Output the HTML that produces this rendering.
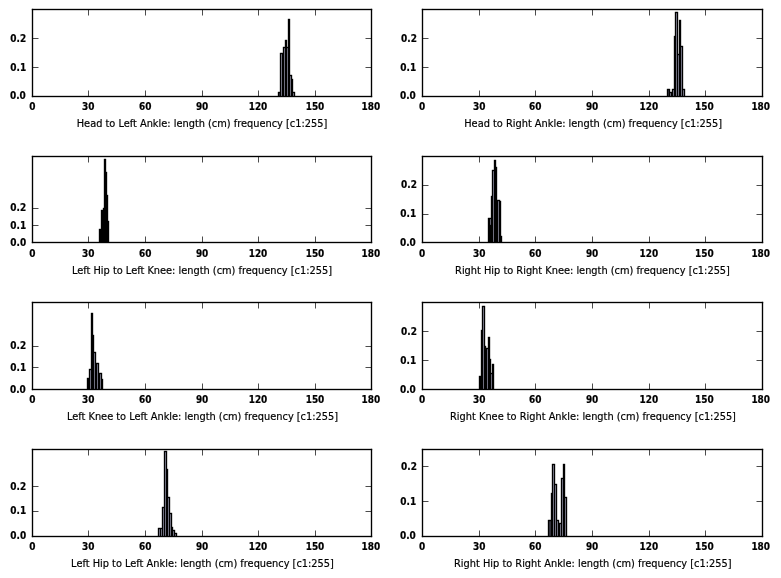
<!DOCTYPE html>
<html><head><meta charset="utf-8"><title>Limb length histograms</title>
<style>
html,body{margin:0;padding:0;background:#fff;}
body{width:781px;height:578px;overflow:hidden;}
svg{display:block;}
.tk text{font-family:"DejaVu Sans Condensed","DejaVu Sans","Liberation Sans",sans-serif;font-weight:bold;font-size:10.4px;fill:#000;stroke:#000;stroke-width:0.2px;}
text.xl{font-family:"DejaVu Sans","Liberation Sans",sans-serif;font-size:9.8px;fill:#000;stroke:#000;stroke-width:0.18px;}
</style></head><body>
<svg width="781" height="578" viewBox="0 0 781 578">
<rect x="0" y="0" width="781" height="578" fill="#fff"/>
<g id="ax1">
<rect x="279" y="93" width="1" height="3" fill="#3a3a44"/>
<rect x="281" y="54" width="1" height="42" fill="#a3a3ba"/>
<rect x="284" y="48" width="1" height="48" fill="#a3a3ba"/>
<rect x="287" y="48" width="1" height="48" fill="#a3a3ba"/>
<rect x="290" y="76" width="1" height="20" fill="#a3a3ba"/>
<rect x="293" y="93" width="1" height="3" fill="#a3a3ba"/>
<rect x="277.825" y="91.825" width="1.35" height="4.175" fill="#000"/>
<rect x="278.825" y="91.825" width="1.35" height="1.35" fill="#000"/>
<rect x="279.825" y="52.825" width="1.35" height="43.175" fill="#000"/>
<rect x="280.825" y="52.825" width="1.35" height="1.35" fill="#000"/>
<rect x="281.825" y="52.825" width="1.35" height="43.175" fill="#000"/>
<rect x="282.825" y="46.825" width="1.35" height="49.175" fill="#000"/>
<rect x="283.825" y="46.825" width="1.35" height="1.35" fill="#000"/>
<rect x="284.825" y="39.825" width="1.35" height="56.175" fill="#000"/>
<rect x="285.825" y="39.825" width="1.35" height="56.175" fill="#000"/>
<rect x="286.825" y="46.825" width="1.35" height="1.35" fill="#000"/>
<rect x="287.825" y="18.825" width="1.35" height="77.175" fill="#000"/>
<rect x="288.825" y="18.825" width="1.35" height="77.175" fill="#000"/>
<rect x="289.825" y="74.825" width="1.35" height="1.35" fill="#000"/>
<rect x="290.825" y="74.825" width="1.35" height="21.175" fill="#000"/>
<rect x="291.825" y="78.825" width="1.35" height="17.175" fill="#000"/>
<rect x="292.825" y="91.825" width="1.35" height="1.35" fill="#000"/>
<rect x="293.825" y="91.825" width="1.35" height="4.175" fill="#000"/>
<rect x="88.15" y="90.5" width="0.7" height="6" fill="#000"/>
<rect x="88.15" y="9.5" width="0.7" height="6" fill="#000"/>
<rect x="145.15" y="90.5" width="0.7" height="6" fill="#000"/>
<rect x="145.15" y="9.5" width="0.7" height="6" fill="#000"/>
<rect x="202.15" y="90.5" width="0.7" height="6" fill="#000"/>
<rect x="202.15" y="9.5" width="0.7" height="6" fill="#000"/>
<rect x="258.15" y="90.5" width="0.7" height="6" fill="#000"/>
<rect x="258.15" y="9.5" width="0.7" height="6" fill="#000"/>
<rect x="315.15" y="90.5" width="0.7" height="6" fill="#000"/>
<rect x="315.15" y="9.5" width="0.7" height="6" fill="#000"/>
<rect x="32.5" y="67.15" width="6" height="0.7" fill="#000"/>
<rect x="365.5" y="67.15" width="6" height="0.7" fill="#000"/>
<rect x="32.5" y="38.15" width="6" height="0.7" fill="#000"/>
<rect x="365.5" y="38.15" width="6" height="0.7" fill="#000"/>
<rect x="31.825" y="8.825" width="340.35" height="1.35" fill="#000"/>
<rect x="31.825" y="95.825" width="340.35" height="1.35" fill="#000"/>
<rect x="31.825" y="8.825" width="1.35" height="88.35" fill="#000"/>
<rect x="370.825" y="8.825" width="1.35" height="88.35" fill="#000"/>
</g>
<g class="tk">
<text x="32.3" y="109.7" text-anchor="middle" textLength="6.22" lengthAdjust="spacingAndGlyphs">0</text>
<text x="88.3" y="109.7" text-anchor="middle" textLength="12.43" lengthAdjust="spacingAndGlyphs">30</text>
<text x="145.3" y="109.7" text-anchor="middle" textLength="12.43" lengthAdjust="spacingAndGlyphs">60</text>
<text x="202.1" y="109.7" text-anchor="middle" textLength="12.43" lengthAdjust="spacingAndGlyphs">90</text>
<text x="258" y="109.7" text-anchor="middle" textLength="18.65" lengthAdjust="spacingAndGlyphs">120</text>
<text x="315" y="109.7" text-anchor="middle" textLength="18.65" lengthAdjust="spacingAndGlyphs">150</text>
<text x="370.9" y="109.7" text-anchor="middle" textLength="18.65" lengthAdjust="spacingAndGlyphs">180</text>
<text x="25.8" y="99.3" text-anchor="end" textLength="15.83" lengthAdjust="spacingAndGlyphs">0.0</text>
<text x="26.1" y="71.3" text-anchor="end" textLength="15.83" lengthAdjust="spacingAndGlyphs">0.1</text>
<text x="26.2" y="42" text-anchor="end" textLength="15.83" lengthAdjust="spacingAndGlyphs">0.2</text>
</g>
<text class="xl" x="202" y="127" text-anchor="middle">Head to Left Ankle: length (cm) frequency [c1:255]</text>
<g id="ax2">
<rect x="668" y="90" width="1" height="6" fill="#3a3a44"/>
<rect x="670" y="93" width="1" height="3" fill="#a3a3ba"/>
<rect x="673" y="90" width="1" height="6" fill="#a3a3ba"/>
<rect x="676" y="13" width="1" height="83" fill="#a3a3ba"/>
<rect x="678" y="55" width="1" height="41" fill="#a3a3ba"/>
<rect x="681" y="47" width="1" height="49" fill="#a3a3ba"/>
<rect x="683" y="90" width="1" height="6" fill="#a3a3ba"/>
<rect x="666.825" y="88.825" width="1.35" height="7.175" fill="#000"/>
<rect x="667.825" y="88.825" width="1.35" height="1.35" fill="#000"/>
<rect x="668.825" y="88.825" width="1.35" height="7.175" fill="#000"/>
<rect x="669.825" y="91.825" width="1.35" height="1.35" fill="#000"/>
<rect x="670.825" y="91.825" width="1.35" height="4.175" fill="#000"/>
<rect x="671.825" y="88.825" width="1.35" height="7.175" fill="#000"/>
<rect x="672.825" y="88.825" width="1.35" height="1.35" fill="#000"/>
<rect x="673.825" y="35.825" width="1.35" height="60.175" fill="#000"/>
<rect x="674.825" y="11.825" width="1.35" height="84.175" fill="#000"/>
<rect x="675.825" y="11.825" width="1.35" height="1.35" fill="#000"/>
<rect x="676.825" y="11.825" width="1.35" height="84.175" fill="#000"/>
<rect x="677.825" y="53.825" width="1.35" height="1.35" fill="#000"/>
<rect x="678.825" y="19.825" width="1.35" height="76.175" fill="#000"/>
<rect x="679.825" y="19.825" width="1.35" height="76.175" fill="#000"/>
<rect x="680.825" y="45.825" width="1.35" height="1.35" fill="#000"/>
<rect x="681.825" y="45.825" width="1.35" height="50.175" fill="#000"/>
<rect x="682.825" y="88.825" width="1.35" height="1.35" fill="#000"/>
<rect x="683.825" y="88.825" width="1.35" height="7.175" fill="#000"/>
<rect x="479.15" y="90.5" width="0.7" height="6" fill="#000"/>
<rect x="479.15" y="9.5" width="0.7" height="6" fill="#000"/>
<rect x="535.15" y="90.5" width="0.7" height="6" fill="#000"/>
<rect x="535.15" y="9.5" width="0.7" height="6" fill="#000"/>
<rect x="592.15" y="90.5" width="0.7" height="6" fill="#000"/>
<rect x="592.15" y="9.5" width="0.7" height="6" fill="#000"/>
<rect x="649.15" y="90.5" width="0.7" height="6" fill="#000"/>
<rect x="649.15" y="9.5" width="0.7" height="6" fill="#000"/>
<rect x="705.15" y="90.5" width="0.7" height="6" fill="#000"/>
<rect x="705.15" y="9.5" width="0.7" height="6" fill="#000"/>
<rect x="422.5" y="67.15" width="6" height="0.7" fill="#000"/>
<rect x="756.5" y="67.15" width="6" height="0.7" fill="#000"/>
<rect x="422.5" y="38.15" width="6" height="0.7" fill="#000"/>
<rect x="756.5" y="38.15" width="6" height="0.7" fill="#000"/>
<rect x="421.825" y="8.825" width="341.35" height="1.35" fill="#000"/>
<rect x="421.825" y="95.825" width="341.35" height="1.35" fill="#000"/>
<rect x="421.825" y="8.825" width="1.35" height="88.35" fill="#000"/>
<rect x="761.825" y="8.825" width="1.35" height="88.35" fill="#000"/>
</g>
<g class="tk">
<text x="422" y="109.7" text-anchor="middle" textLength="6.22" lengthAdjust="spacingAndGlyphs">0</text>
<text x="479.3" y="109.7" text-anchor="middle" textLength="12.43" lengthAdjust="spacingAndGlyphs">30</text>
<text x="535.3" y="109.7" text-anchor="middle" textLength="12.43" lengthAdjust="spacingAndGlyphs">60</text>
<text x="592.1" y="109.7" text-anchor="middle" textLength="12.43" lengthAdjust="spacingAndGlyphs">90</text>
<text x="648.8" y="109.7" text-anchor="middle" textLength="18.65" lengthAdjust="spacingAndGlyphs">120</text>
<text x="704.3" y="109.7" text-anchor="middle" textLength="18.65" lengthAdjust="spacingAndGlyphs">150</text>
<text x="760.7" y="109.7" text-anchor="middle" textLength="18.65" lengthAdjust="spacingAndGlyphs">180</text>
<text x="415.8" y="99.3" text-anchor="end" textLength="15.83" lengthAdjust="spacingAndGlyphs">0.0</text>
<text x="416.1" y="71.1" text-anchor="end" textLength="15.83" lengthAdjust="spacingAndGlyphs">0.1</text>
<text x="416.9" y="42.1" text-anchor="end" textLength="15.83" lengthAdjust="spacingAndGlyphs">0.2</text>
</g>
<text class="xl" x="593.2" y="127" text-anchor="middle">Head to Right Ankle: length (cm) frequency [c1:255]</text>
<g id="ax3">
<rect x="98.825" y="228.825" width="1.35" height="13.175" fill="#000"/>
<rect x="99.825" y="228.825" width="1.35" height="13.175" fill="#000"/>
<rect x="100.825" y="209.825" width="1.35" height="32.175" fill="#000"/>
<rect x="101.825" y="209.825" width="1.35" height="32.175" fill="#000"/>
<rect x="102.825" y="207.825" width="1.35" height="34.175" fill="#000"/>
<rect x="103.825" y="158.825" width="1.35" height="83.175" fill="#000"/>
<rect x="104.825" y="158.825" width="1.35" height="83.175" fill="#000"/>
<rect x="105.825" y="171.825" width="1.35" height="70.175" fill="#000"/>
<rect x="106.825" y="194.825" width="1.35" height="47.175" fill="#000"/>
<rect x="107.825" y="220.825" width="1.35" height="21.175" fill="#000"/>
<rect x="88.15" y="236.5" width="0.7" height="6" fill="#000"/>
<rect x="88.15" y="156.5" width="0.7" height="6" fill="#000"/>
<rect x="145.15" y="236.5" width="0.7" height="6" fill="#000"/>
<rect x="145.15" y="156.5" width="0.7" height="6" fill="#000"/>
<rect x="202.15" y="236.5" width="0.7" height="6" fill="#000"/>
<rect x="202.15" y="156.5" width="0.7" height="6" fill="#000"/>
<rect x="258.15" y="236.5" width="0.7" height="6" fill="#000"/>
<rect x="258.15" y="156.5" width="0.7" height="6" fill="#000"/>
<rect x="315.15" y="236.5" width="0.7" height="6" fill="#000"/>
<rect x="315.15" y="156.5" width="0.7" height="6" fill="#000"/>
<rect x="32.5" y="225.15" width="6" height="0.7" fill="#000"/>
<rect x="365.5" y="225.15" width="6" height="0.7" fill="#000"/>
<rect x="32.5" y="208.15" width="6" height="0.7" fill="#000"/>
<rect x="365.5" y="208.15" width="6" height="0.7" fill="#000"/>
<rect x="31.825" y="155.825" width="340.35" height="1.35" fill="#000"/>
<rect x="31.825" y="241.825" width="340.35" height="1.35" fill="#000"/>
<rect x="31.825" y="155.825" width="1.35" height="87.35" fill="#000"/>
<rect x="370.825" y="155.825" width="1.35" height="87.35" fill="#000"/>
</g>
<g class="tk">
<text x="32.3" y="256.5" text-anchor="middle" textLength="6.22" lengthAdjust="spacingAndGlyphs">0</text>
<text x="88.3" y="256.5" text-anchor="middle" textLength="12.43" lengthAdjust="spacingAndGlyphs">30</text>
<text x="145.3" y="256.5" text-anchor="middle" textLength="12.43" lengthAdjust="spacingAndGlyphs">60</text>
<text x="202.1" y="256.5" text-anchor="middle" textLength="12.43" lengthAdjust="spacingAndGlyphs">90</text>
<text x="258" y="256.5" text-anchor="middle" textLength="18.65" lengthAdjust="spacingAndGlyphs">120</text>
<text x="315" y="256.5" text-anchor="middle" textLength="18.65" lengthAdjust="spacingAndGlyphs">150</text>
<text x="370.9" y="256.5" text-anchor="middle" textLength="18.65" lengthAdjust="spacingAndGlyphs">180</text>
<text x="26.1" y="246.2" text-anchor="end" textLength="15.83" lengthAdjust="spacingAndGlyphs">0.0</text>
<text x="26.1" y="229.1" text-anchor="end" textLength="15.83" lengthAdjust="spacingAndGlyphs">0.1</text>
<text x="26.1" y="211" text-anchor="end" textLength="15.83" lengthAdjust="spacingAndGlyphs">0.2</text>
</g>
<text class="xl" x="202" y="273.8" text-anchor="middle">Left Hip to Left Knee: length (cm) frequency [c1:255]</text>
<g id="ax4">
<rect x="490" y="219" width="1" height="23" fill="#9494a8"/>
<rect x="493" y="171" width="1" height="71" fill="#a3a3ba"/>
<rect x="498" y="201" width="1" height="41" fill="#a3a3ba"/>
<rect x="487.825" y="217.825" width="1.35" height="24.175" fill="#000"/>
<rect x="488.825" y="217.825" width="1.35" height="24.175" fill="#000"/>
<rect x="489.825" y="217.825" width="1.35" height="1.35" fill="#000"/>
<rect x="490.825" y="195.825" width="1.35" height="46.175" fill="#000"/>
<rect x="491.825" y="169.825" width="1.35" height="72.175" fill="#000"/>
<rect x="492.825" y="169.825" width="1.35" height="1.35" fill="#000"/>
<rect x="493.825" y="159.825" width="1.35" height="82.175" fill="#000"/>
<rect x="494.825" y="159.825" width="1.35" height="82.175" fill="#000"/>
<rect x="495.825" y="166.825" width="1.35" height="75.175" fill="#000"/>
<rect x="496.825" y="199.825" width="1.35" height="42.175" fill="#000"/>
<rect x="497.825" y="199.825" width="1.35" height="1.35" fill="#000"/>
<rect x="498.825" y="199.825" width="1.35" height="42.175" fill="#000"/>
<rect x="499.825" y="200.825" width="1.35" height="41.175" fill="#000"/>
<rect x="500.825" y="235.825" width="1.35" height="6.175" fill="#000"/>
<rect x="489.825" y="224.825" width="1.35" height="17.175" fill="#000"/>
<rect x="479.15" y="236.5" width="0.7" height="6" fill="#000"/>
<rect x="479.15" y="156.5" width="0.7" height="6" fill="#000"/>
<rect x="535.15" y="236.5" width="0.7" height="6" fill="#000"/>
<rect x="535.15" y="156.5" width="0.7" height="6" fill="#000"/>
<rect x="592.15" y="236.5" width="0.7" height="6" fill="#000"/>
<rect x="592.15" y="156.5" width="0.7" height="6" fill="#000"/>
<rect x="649.15" y="236.5" width="0.7" height="6" fill="#000"/>
<rect x="649.15" y="156.5" width="0.7" height="6" fill="#000"/>
<rect x="705.15" y="236.5" width="0.7" height="6" fill="#000"/>
<rect x="705.15" y="156.5" width="0.7" height="6" fill="#000"/>
<rect x="422.5" y="214.15" width="6" height="0.7" fill="#000"/>
<rect x="756.5" y="214.15" width="6" height="0.7" fill="#000"/>
<rect x="422.5" y="185.15" width="6" height="0.7" fill="#000"/>
<rect x="756.5" y="185.15" width="6" height="0.7" fill="#000"/>
<rect x="421.825" y="155.825" width="341.35" height="1.35" fill="#000"/>
<rect x="421.825" y="241.825" width="341.35" height="1.35" fill="#000"/>
<rect x="421.825" y="155.825" width="1.35" height="87.35" fill="#000"/>
<rect x="761.825" y="155.825" width="1.35" height="87.35" fill="#000"/>
</g>
<g class="tk">
<text x="422" y="256.6" text-anchor="middle" textLength="6.22" lengthAdjust="spacingAndGlyphs">0</text>
<text x="479.3" y="256.6" text-anchor="middle" textLength="12.43" lengthAdjust="spacingAndGlyphs">30</text>
<text x="535.3" y="256.6" text-anchor="middle" textLength="12.43" lengthAdjust="spacingAndGlyphs">60</text>
<text x="592.1" y="256.6" text-anchor="middle" textLength="12.43" lengthAdjust="spacingAndGlyphs">90</text>
<text x="648.8" y="256.6" text-anchor="middle" textLength="18.65" lengthAdjust="spacingAndGlyphs">120</text>
<text x="704.3" y="256.6" text-anchor="middle" textLength="18.65" lengthAdjust="spacingAndGlyphs">150</text>
<text x="760.7" y="256.6" text-anchor="middle" textLength="18.65" lengthAdjust="spacingAndGlyphs">180</text>
<text x="415.8" y="246.3" text-anchor="end" textLength="15.83" lengthAdjust="spacingAndGlyphs">0.0</text>
<text x="416.1" y="217" text-anchor="end" textLength="15.83" lengthAdjust="spacingAndGlyphs">0.1</text>
<text x="416.9" y="188" text-anchor="end" textLength="15.83" lengthAdjust="spacingAndGlyphs">0.2</text>
</g>
<text class="xl" x="592.5" y="273.8" text-anchor="middle">Right Hip to Right Knee: length (cm) frequency [c1:255]</text>
<g id="ax5">
<rect x="90" y="370" width="1" height="19" fill="#a3a3ba"/>
<rect x="94" y="353" width="1" height="36" fill="#a3a3ba"/>
<rect x="97" y="364" width="1" height="25" fill="#a3a3ba"/>
<rect x="100" y="374" width="1" height="15" fill="#a3a3ba"/>
<rect x="86.825" y="377.825" width="1.35" height="11.175" fill="#000"/>
<rect x="87.825" y="377.825" width="1.35" height="11.175" fill="#000"/>
<rect x="88.825" y="368.825" width="1.35" height="20.175" fill="#000"/>
<rect x="89.825" y="368.825" width="1.35" height="1.35" fill="#000"/>
<rect x="90.825" y="312.825" width="1.35" height="76.175" fill="#000"/>
<rect x="91.825" y="312.825" width="1.35" height="76.175" fill="#000"/>
<rect x="92.825" y="334.825" width="1.35" height="54.175" fill="#000"/>
<rect x="93.825" y="351.825" width="1.35" height="1.35" fill="#000"/>
<rect x="94.825" y="351.825" width="1.35" height="37.175" fill="#000"/>
<rect x="95.825" y="362.825" width="1.35" height="26.175" fill="#000"/>
<rect x="96.825" y="362.825" width="1.35" height="1.35" fill="#000"/>
<rect x="97.825" y="362.825" width="1.35" height="26.175" fill="#000"/>
<rect x="98.825" y="372.825" width="1.35" height="16.175" fill="#000"/>
<rect x="99.825" y="372.825" width="1.35" height="1.35" fill="#000"/>
<rect x="100.825" y="372.825" width="1.35" height="16.175" fill="#000"/>
<rect x="101.825" y="378.825" width="1.35" height="10.175" fill="#000"/>
<rect x="88.15" y="383.5" width="0.7" height="6" fill="#000"/>
<rect x="88.15" y="302.5" width="0.7" height="6" fill="#000"/>
<rect x="145.15" y="383.5" width="0.7" height="6" fill="#000"/>
<rect x="145.15" y="302.5" width="0.7" height="6" fill="#000"/>
<rect x="202.15" y="383.5" width="0.7" height="6" fill="#000"/>
<rect x="202.15" y="302.5" width="0.7" height="6" fill="#000"/>
<rect x="258.15" y="383.5" width="0.7" height="6" fill="#000"/>
<rect x="258.15" y="302.5" width="0.7" height="6" fill="#000"/>
<rect x="315.15" y="383.5" width="0.7" height="6" fill="#000"/>
<rect x="315.15" y="302.5" width="0.7" height="6" fill="#000"/>
<rect x="32.5" y="367.15" width="6" height="0.7" fill="#000"/>
<rect x="365.5" y="367.15" width="6" height="0.7" fill="#000"/>
<rect x="32.5" y="346.15" width="6" height="0.7" fill="#000"/>
<rect x="365.5" y="346.15" width="6" height="0.7" fill="#000"/>
<rect x="31.825" y="301.825" width="340.35" height="1.35" fill="#000"/>
<rect x="31.825" y="388.825" width="340.35" height="1.35" fill="#000"/>
<rect x="31.825" y="301.825" width="1.35" height="88.35" fill="#000"/>
<rect x="370.825" y="301.825" width="1.35" height="88.35" fill="#000"/>
</g>
<g class="tk">
<text x="32.3" y="402.7" text-anchor="middle" textLength="6.22" lengthAdjust="spacingAndGlyphs">0</text>
<text x="88.3" y="402.7" text-anchor="middle" textLength="12.43" lengthAdjust="spacingAndGlyphs">30</text>
<text x="145.3" y="402.7" text-anchor="middle" textLength="12.43" lengthAdjust="spacingAndGlyphs">60</text>
<text x="202.1" y="402.7" text-anchor="middle" textLength="12.43" lengthAdjust="spacingAndGlyphs">90</text>
<text x="258" y="402.7" text-anchor="middle" textLength="18.65" lengthAdjust="spacingAndGlyphs">120</text>
<text x="315" y="402.7" text-anchor="middle" textLength="18.65" lengthAdjust="spacingAndGlyphs">150</text>
<text x="370.9" y="402.7" text-anchor="middle" textLength="18.65" lengthAdjust="spacingAndGlyphs">180</text>
<text x="25.8" y="393.3" text-anchor="end" textLength="15.83" lengthAdjust="spacingAndGlyphs">0.0</text>
<text x="26.1" y="371.2" text-anchor="end" textLength="15.83" lengthAdjust="spacingAndGlyphs">0.1</text>
<text x="26.1" y="349" text-anchor="end" textLength="15.83" lengthAdjust="spacingAndGlyphs">0.2</text>
</g>
<text class="xl" x="202.5" y="420" text-anchor="middle">Left Knee to Left Ankle: length (cm) frequency [c1:255]</text>
<g id="ax6">
<rect x="483" y="307" width="1" height="82" fill="#a3a3ba"/>
<rect x="487" y="349" width="1" height="40" fill="#a3a3ba"/>
<rect x="491" y="374" width="1" height="15" fill="#a3a3ba"/>
<rect x="478.825" y="375.825" width="1.35" height="13.175" fill="#000"/>
<rect x="479.825" y="375.825" width="1.35" height="13.175" fill="#000"/>
<rect x="480.825" y="329.825" width="1.35" height="59.175" fill="#000"/>
<rect x="481.825" y="305.825" width="1.35" height="83.175" fill="#000"/>
<rect x="482.825" y="305.825" width="1.35" height="1.35" fill="#000"/>
<rect x="483.825" y="305.825" width="1.35" height="83.175" fill="#000"/>
<rect x="484.825" y="345.825" width="1.35" height="43.175" fill="#000"/>
<rect x="485.825" y="347.825" width="1.35" height="41.175" fill="#000"/>
<rect x="486.825" y="347.825" width="1.35" height="1.35" fill="#000"/>
<rect x="487.825" y="336.825" width="1.35" height="52.175" fill="#000"/>
<rect x="488.825" y="336.825" width="1.35" height="52.175" fill="#000"/>
<rect x="489.825" y="358.825" width="1.35" height="30.175" fill="#000"/>
<rect x="490.825" y="372.825" width="1.35" height="1.35" fill="#000"/>
<rect x="491.825" y="363.825" width="1.35" height="25.175" fill="#000"/>
<rect x="492.825" y="363.825" width="1.35" height="25.175" fill="#000"/>
<rect x="479.15" y="383.5" width="0.7" height="6" fill="#000"/>
<rect x="479.15" y="302.5" width="0.7" height="6" fill="#000"/>
<rect x="535.15" y="383.5" width="0.7" height="6" fill="#000"/>
<rect x="535.15" y="302.5" width="0.7" height="6" fill="#000"/>
<rect x="592.15" y="383.5" width="0.7" height="6" fill="#000"/>
<rect x="592.15" y="302.5" width="0.7" height="6" fill="#000"/>
<rect x="649.15" y="383.5" width="0.7" height="6" fill="#000"/>
<rect x="649.15" y="302.5" width="0.7" height="6" fill="#000"/>
<rect x="705.15" y="383.5" width="0.7" height="6" fill="#000"/>
<rect x="705.15" y="302.5" width="0.7" height="6" fill="#000"/>
<rect x="422.5" y="360.15" width="6" height="0.7" fill="#000"/>
<rect x="756.5" y="360.15" width="6" height="0.7" fill="#000"/>
<rect x="422.5" y="331.15" width="6" height="0.7" fill="#000"/>
<rect x="756.5" y="331.15" width="6" height="0.7" fill="#000"/>
<rect x="421.825" y="301.825" width="341.35" height="1.35" fill="#000"/>
<rect x="421.825" y="388.825" width="341.35" height="1.35" fill="#000"/>
<rect x="421.825" y="301.825" width="1.35" height="88.35" fill="#000"/>
<rect x="761.825" y="301.825" width="1.35" height="88.35" fill="#000"/>
</g>
<g class="tk">
<text x="422" y="403" text-anchor="middle" textLength="6.22" lengthAdjust="spacingAndGlyphs">0</text>
<text x="479.3" y="403" text-anchor="middle" textLength="12.43" lengthAdjust="spacingAndGlyphs">30</text>
<text x="535.3" y="403" text-anchor="middle" textLength="12.43" lengthAdjust="spacingAndGlyphs">60</text>
<text x="592.1" y="403" text-anchor="middle" textLength="12.43" lengthAdjust="spacingAndGlyphs">90</text>
<text x="648.8" y="403" text-anchor="middle" textLength="18.65" lengthAdjust="spacingAndGlyphs">120</text>
<text x="704.3" y="403" text-anchor="middle" textLength="18.65" lengthAdjust="spacingAndGlyphs">150</text>
<text x="760.7" y="403" text-anchor="middle" textLength="18.65" lengthAdjust="spacingAndGlyphs">180</text>
<text x="415.8" y="393" text-anchor="end" textLength="15.83" lengthAdjust="spacingAndGlyphs">0.0</text>
<text x="416.1" y="364.3" text-anchor="end" textLength="15.83" lengthAdjust="spacingAndGlyphs">0.1</text>
<text x="416.9" y="335.3" text-anchor="end" textLength="15.83" lengthAdjust="spacingAndGlyphs">0.2</text>
</g>
<text class="xl" x="593" y="420" text-anchor="middle">Right Knee to Right Ankle: length (cm) frequency [c1:255]</text>
<g id="ax7">
<rect x="159" y="529" width="1" height="7" fill="#a3a3ba"/>
<rect x="161" y="529" width="1" height="7" fill="#a3a3ba"/>
<rect x="163" y="508" width="1" height="28" fill="#a3a3ba"/>
<rect x="165" y="452" width="1" height="84" fill="#a3a3ba"/>
<rect x="168" y="498" width="1" height="38" fill="#a3a3ba"/>
<rect x="170" y="514" width="1" height="22" fill="#a3a3ba"/>
<rect x="173" y="531" width="1" height="5" fill="#a3a3ba"/>
<rect x="175" y="534" width="1" height="2" fill="#a3a3ba"/>
<rect x="157.825" y="527.825" width="1.35" height="8.175" fill="#000"/>
<rect x="158.825" y="527.825" width="1.35" height="1.35" fill="#000"/>
<rect x="159.825" y="527.825" width="1.35" height="8.175" fill="#000"/>
<rect x="160.825" y="527.825" width="1.35" height="1.35" fill="#000"/>
<rect x="161.825" y="506.825" width="1.35" height="29.175" fill="#000"/>
<rect x="162.825" y="506.825" width="1.35" height="1.35" fill="#000"/>
<rect x="163.825" y="450.825" width="1.35" height="85.175" fill="#000"/>
<rect x="164.825" y="450.825" width="1.35" height="1.35" fill="#000"/>
<rect x="165.825" y="450.825" width="1.35" height="85.175" fill="#000"/>
<rect x="166.825" y="468.825" width="1.35" height="67.175" fill="#000"/>
<rect x="167.825" y="496.825" width="1.35" height="1.35" fill="#000"/>
<rect x="168.825" y="496.825" width="1.35" height="39.175" fill="#000"/>
<rect x="169.825" y="512.825" width="1.35" height="1.35" fill="#000"/>
<rect x="170.825" y="512.825" width="1.35" height="23.175" fill="#000"/>
<rect x="171.825" y="526.825" width="1.35" height="9.175" fill="#000"/>
<rect x="172.825" y="529.825" width="1.35" height="1.35" fill="#000"/>
<rect x="173.825" y="529.825" width="1.35" height="6.175" fill="#000"/>
<rect x="174.825" y="532.825" width="1.35" height="1.35" fill="#000"/>
<rect x="175.825" y="532.825" width="1.35" height="3.175" fill="#000"/>
<rect x="88.15" y="530.5" width="0.7" height="6" fill="#000"/>
<rect x="88.15" y="449.5" width="0.7" height="6" fill="#000"/>
<rect x="145.15" y="530.5" width="0.7" height="6" fill="#000"/>
<rect x="145.15" y="449.5" width="0.7" height="6" fill="#000"/>
<rect x="202.15" y="530.5" width="0.7" height="6" fill="#000"/>
<rect x="202.15" y="449.5" width="0.7" height="6" fill="#000"/>
<rect x="258.15" y="530.5" width="0.7" height="6" fill="#000"/>
<rect x="258.15" y="449.5" width="0.7" height="6" fill="#000"/>
<rect x="315.15" y="530.5" width="0.7" height="6" fill="#000"/>
<rect x="315.15" y="449.5" width="0.7" height="6" fill="#000"/>
<rect x="32.5" y="511.15" width="6" height="0.7" fill="#000"/>
<rect x="365.5" y="511.15" width="6" height="0.7" fill="#000"/>
<rect x="32.5" y="486.15" width="6" height="0.7" fill="#000"/>
<rect x="365.5" y="486.15" width="6" height="0.7" fill="#000"/>
<rect x="31.825" y="448.825" width="340.35" height="1.35" fill="#000"/>
<rect x="31.825" y="535.825" width="340.35" height="1.35" fill="#000"/>
<rect x="31.825" y="448.825" width="1.35" height="88.35" fill="#000"/>
<rect x="370.825" y="448.825" width="1.35" height="88.35" fill="#000"/>
</g>
<g class="tk">
<text x="32.3" y="550.1" text-anchor="middle" textLength="6.22" lengthAdjust="spacingAndGlyphs">0</text>
<text x="88.3" y="550.1" text-anchor="middle" textLength="12.43" lengthAdjust="spacingAndGlyphs">30</text>
<text x="145.3" y="550.1" text-anchor="middle" textLength="12.43" lengthAdjust="spacingAndGlyphs">60</text>
<text x="202.1" y="550.1" text-anchor="middle" textLength="12.43" lengthAdjust="spacingAndGlyphs">90</text>
<text x="258" y="550.1" text-anchor="middle" textLength="18.65" lengthAdjust="spacingAndGlyphs">120</text>
<text x="315" y="550.1" text-anchor="middle" textLength="18.65" lengthAdjust="spacingAndGlyphs">150</text>
<text x="370.9" y="550.1" text-anchor="middle" textLength="18.65" lengthAdjust="spacingAndGlyphs">180</text>
<text x="26.1" y="538.6" text-anchor="end" textLength="15.83" lengthAdjust="spacingAndGlyphs">0.0</text>
<text x="26.1" y="514.3" text-anchor="end" textLength="15.83" lengthAdjust="spacingAndGlyphs">0.1</text>
<text x="26.1" y="490.2" text-anchor="end" textLength="15.83" lengthAdjust="spacingAndGlyphs">0.2</text>
</g>
<text class="xl" x="202.5" y="567" text-anchor="middle">Left Hip to Left Ankle: length (cm) frequency [c1:255]</text>
<g id="ax8">
<rect x="549" y="521" width="1" height="15" fill="#3a3a44"/>
<rect x="550" y="521" width="1" height="15" fill="#3a3a44"/>
<rect x="553" y="465" width="1" height="71" fill="#a3a3ba"/>
<rect x="555" y="485" width="1" height="51" fill="#a3a3ba"/>
<rect x="557" y="521" width="1" height="15" fill="#a3a3ba"/>
<rect x="560" y="524" width="1" height="12" fill="#a3a3ba"/>
<rect x="562" y="479" width="1" height="57" fill="#a3a3ba"/>
<rect x="565" y="498" width="1" height="38" fill="#a3a3ba"/>
<rect x="547.825" y="519.825" width="1.35" height="16.175" fill="#000"/>
<rect x="548.825" y="519.825" width="1.35" height="1.35" fill="#000"/>
<rect x="549.825" y="519.825" width="1.35" height="1.35" fill="#000"/>
<rect x="550.825" y="492.825" width="1.35" height="43.175" fill="#000"/>
<rect x="551.825" y="463.825" width="1.35" height="72.175" fill="#000"/>
<rect x="552.825" y="463.825" width="1.35" height="1.35" fill="#000"/>
<rect x="553.825" y="463.825" width="1.35" height="72.175" fill="#000"/>
<rect x="554.825" y="483.825" width="1.35" height="1.35" fill="#000"/>
<rect x="555.825" y="483.825" width="1.35" height="52.175" fill="#000"/>
<rect x="556.825" y="519.825" width="1.35" height="1.35" fill="#000"/>
<rect x="557.825" y="519.825" width="1.35" height="16.175" fill="#000"/>
<rect x="558.825" y="522.825" width="1.35" height="13.175" fill="#000"/>
<rect x="559.825" y="522.825" width="1.35" height="1.35" fill="#000"/>
<rect x="560.825" y="477.825" width="1.35" height="58.175" fill="#000"/>
<rect x="561.825" y="477.825" width="1.35" height="1.35" fill="#000"/>
<rect x="562.825" y="463.825" width="1.35" height="72.175" fill="#000"/>
<rect x="563.825" y="463.825" width="1.35" height="72.175" fill="#000"/>
<rect x="564.825" y="496.825" width="1.35" height="1.35" fill="#000"/>
<rect x="565.825" y="496.825" width="1.35" height="39.175" fill="#000"/>
<rect x="479.15" y="530.5" width="0.7" height="6" fill="#000"/>
<rect x="479.15" y="449.5" width="0.7" height="6" fill="#000"/>
<rect x="535.15" y="530.5" width="0.7" height="6" fill="#000"/>
<rect x="535.15" y="449.5" width="0.7" height="6" fill="#000"/>
<rect x="592.15" y="530.5" width="0.7" height="6" fill="#000"/>
<rect x="592.15" y="449.5" width="0.7" height="6" fill="#000"/>
<rect x="649.15" y="530.5" width="0.7" height="6" fill="#000"/>
<rect x="649.15" y="449.5" width="0.7" height="6" fill="#000"/>
<rect x="705.15" y="530.5" width="0.7" height="6" fill="#000"/>
<rect x="705.15" y="449.5" width="0.7" height="6" fill="#000"/>
<rect x="422.5" y="501.15" width="6" height="0.7" fill="#000"/>
<rect x="756.5" y="501.15" width="6" height="0.7" fill="#000"/>
<rect x="422.5" y="466.15" width="6" height="0.7" fill="#000"/>
<rect x="756.5" y="466.15" width="6" height="0.7" fill="#000"/>
<rect x="421.825" y="448.825" width="341.35" height="1.35" fill="#000"/>
<rect x="421.825" y="535.825" width="341.35" height="1.35" fill="#000"/>
<rect x="421.825" y="448.825" width="1.35" height="88.35" fill="#000"/>
<rect x="761.825" y="448.825" width="1.35" height="88.35" fill="#000"/>
</g>
<g class="tk">
<text x="422" y="549.7" text-anchor="middle" textLength="6.22" lengthAdjust="spacingAndGlyphs">0</text>
<text x="479.3" y="549.7" text-anchor="middle" textLength="12.43" lengthAdjust="spacingAndGlyphs">30</text>
<text x="535.3" y="549.7" text-anchor="middle" textLength="12.43" lengthAdjust="spacingAndGlyphs">60</text>
<text x="592.1" y="549.7" text-anchor="middle" textLength="12.43" lengthAdjust="spacingAndGlyphs">90</text>
<text x="648.8" y="549.7" text-anchor="middle" textLength="18.65" lengthAdjust="spacingAndGlyphs">120</text>
<text x="704.3" y="549.7" text-anchor="middle" textLength="18.65" lengthAdjust="spacingAndGlyphs">150</text>
<text x="760.7" y="549.7" text-anchor="middle" textLength="18.65" lengthAdjust="spacingAndGlyphs">180</text>
<text x="415.8" y="539.2" text-anchor="end" textLength="15.83" lengthAdjust="spacingAndGlyphs">0.0</text>
<text x="416.1" y="505" text-anchor="end" textLength="15.83" lengthAdjust="spacingAndGlyphs">0.1</text>
<text x="416.9" y="470.2" text-anchor="end" textLength="15.83" lengthAdjust="spacingAndGlyphs">0.2</text>
</g>
<text class="xl" x="592.8" y="567" text-anchor="middle">Right Hip to Right Ankle: length (cm) frequency [c1:255]</text>
</svg>
</body></html>
